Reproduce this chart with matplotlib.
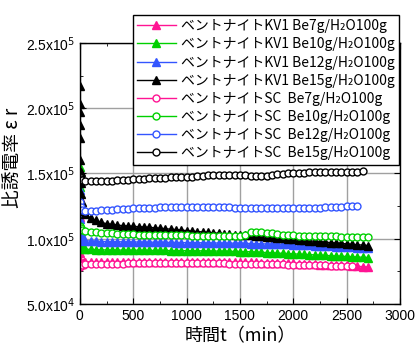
import numpy as np
import matplotlib
matplotlib.use("Agg")
import matplotlib.pyplot as plt
from matplotlib.ticker import MultipleLocator, FixedLocator

plt.rcParams['font.family'] = ['Liberation Sans', 'DejaVu Sans']
JP = ['Noto Sans CJK JP', 'DejaVu Sans']

# time axis (min)
t_kv1 = [0, 1, 2, 3, 4, 5, 7, 10, 15, 20, 30, 40] + list(range(50, 2701, 50))
t_sc = [0, 10, 20] + list(range(50, 2701, 50))

# dielectric constant, x10^3
kv1_7 = [131, 117, 102, 89, 84, 82, 81, 80.5, 80.5, 81, 81.5, 82,
         82.2, 82.3, 82.4, 82.5, 82.5, 82.5, 82.5, 82.5, 82.5, 82.5,
         82.5, 82.5, 82.5, 82.4, 82.4, 82.4, 82.4, 82.3, 82.3, 82.3,
         82.3, 82.3, 82.2, 82.2, 82.2, 82.1, 82.1, 82.1, 82.0, 82.0,
         82.0, 81.9, 81.8, 81.7, 81.6, 81.5, 81.4, 81.3, 81.2, 81.1,
         81.0, 80.8, 80.6, 80.4, 80.2, 80.0, 79.8, 79.7, 79.6, 79.5,
         79.2, 78.9, 78.6, 78.3]
kv1_10 = [155, 148, 140, 130, 120, 112, 106, 100, 96, 94, 93, 92.5,
          92, 91.8, 91.6, 91.5, 91.4, 91.4, 91.3, 91.3, 91.2, 91.2,
          91.2, 91.1, 91.1, 91, 91, 91, 90.9, 90.9, 90.9, 90.8,
          90.8, 90.7, 90.7, 90.6, 90.6, 90.5, 90.5, 90.4, 90.3, 90.2,
          90.1, 90, 89.8, 89.6, 89.4, 89.2, 89, 88.8, 88.6, 88.4,
          88.2, 88, 87.8, 87.6, 87.4, 87.2, 87, 86.8, 86.6, 86.4,
          86.2, 86, 85.8, 85.6]
kv1_12 = [137, 130, 125, 120, 115, 110, 106, 104, 102, 100.5, 99.5, 99,
          98.5, 98.2, 98, 97.8, 97.8, 97.7, 97.7, 97.6, 97.6, 97.5,
          97.5, 97.4, 97.4, 97.3, 97.3, 97.2, 97.2, 97.1, 97.1, 97,
          97, 96.9, 96.9, 96.8, 96.8, 96.7, 96.7, 96.6, 96.6, 96.5,
          96.4, 96.3, 96.2, 96.1, 96, 95.9, 95.8, 95.7, 95.6, 95.5,
          95.3, 95.1, 94.9, 94.7, 94.5, 94.3, 94.1, 93.9, 93.7, 93.5,
          93.3, 93.1, 92.9, 92.7]
kv1_15 = [217, 203, 197, 187, 177, 160, 151, 143, 134, 128, 124, 121,
          119, 116, 114, 112.5, 111.5, 111, 110.5, 110, 109.8, 109.5,
          109.2, 109, 108.7, 108.4, 108, 107.7, 107.3, 107, 106.6, 106.2,
          105.8, 105.5, 105.2, 104.8, 104.5, 104.2, 103.8, 103.5, 103.2, 102.8,
          102.6, 102.8, 102.4, 102, 101.5, 101, 100.6, 100.2, 99.8, 99.4,
          99, 98.7, 98.4, 98, 97.7, 97.4, 97, 96.7, 96.4, 96,
          95.7, 95.4, 95.1, 94.8]

sc_7 = [78, 79.5, 80,
        80.3, 80.5, 80.6, 80.7, 80.8, 80.9, 81, 81, 81.1, 81.1,
        81.2, 81.2, 81.2, 81.3, 81.3, 81.3, 81.3, 81.3, 81.3, 81.3,
        81.3, 81.3, 81.2, 81.2, 81.2, 81.1, 81.1, 81, 81, 81,
        80.9, 80.9, 80.8, 80.7, 80.6, 80.5, 80.4, 80.3, 80.2, 80.1,
        80, 79.9, 79.8, 79.7, 79.6, 79.5, 79.4, 79.3, 79.2, 79.1,
        79.0]
sc_10 = [110, 108, 107,
         106, 105.5, 105, 104.5, 104.2, 104, 103.8, 103.6, 103.5, 103.3,
         103.2, 103.1, 103, 102.9, 102.8, 102.7, 102.6, 102.6, 102.5, 102.5,
         102.4, 102.4, 102.3, 102.3, 102.2, 102.2, 102.1, 102.1, 102.1, 102.2,
         103, 104.8, 105.5, 105, 104.5, 104, 103.5, 103, 102.7, 102.5,
         102.3, 102.2, 102.1, 102, 101.9, 101.8, 101.7, 101.7, 101.6, 101.6,
         101.5, 101.5, 101.5, 101.5]
sc_12 = [128, 124, 122,
         121, 121.2, 121.5, 121.8, 122, 122.2, 122.5, 122.7, 123, 123.2,
         123.4, 123.5, 123.7, 123.8, 124, 124, 124.1, 124.2, 124.2, 124.3,
         124.4, 124.5, 124.5, 124.5, 124.5, 124.4, 124.2, 124, 123.8, 123.6,
         123.5, 123.4, 123.3, 123.3, 123.3, 123.3, 123.3, 123.3, 123.4, 123.4,
         123.5, 123.6, 123.7, 123.8, 123.9, 124, 124.2, 124.4, 124.6, 124.8,
         125, 125.2]
sc_15 = [147.5, 146, 145,
         144.3, 144.2, 144.2, 144.3, 144.4, 144.6, 144.8, 145, 145.3, 145.6,
         145.8, 146, 146.2, 146.4, 146.6, 146.8, 147, 147.2, 147.3, 147.4,
         147.6, 147.8, 148.2, 148.5, 148.8, 149, 149.1, 149.1, 149, 148.9,
         148.5, 148, 147.8, 148, 148.4, 148.8, 149.2, 149.6, 150, 150.3,
         150.5, 150.7, 150.8, 150.9, 151, 151.1, 151.2, 151.3, 151.3, 151.4,
         151.4, 151.4, 151.5]

pink = '#ff1493'
green = '#00d000'
blue = '#3355ff'
black = '#000000'

labels = ['ベントナイトKV1 Be7g/H₂O100g', 'ベントナイトKV1 Be10g/H₂O100g',
          'ベントナイトKV1 Be12g/H₂O100g', 'ベントナイトKV1 Be15g/H₂O100g',
          'ベントナイトSC  Be7g/H₂O100g', 'ベントナイトSC  Be10g/H₂O100g',
          'ベントナイトSC  Be12g/H₂O100g', 'ベントナイトSC  Be15g/H₂O100g']

fig = plt.figure(figsize=(4.18, 3.49), dpi=100)
ax = fig.add_axes([0.191, 0.129, 0.766, 0.748])

kv1 = [kv1_7, kv1_10, kv1_12, kv1_15]
sc = [sc_7, sc_10, sc_12, sc_15]
cols = [pink, green, blue, black]

for i in range(4):
    y = np.array(kv1[i]) * 1e3
    ax.plot(t_kv1[:len(y)], y, color=cols[i], lw=1, marker='^', ms=5.5,
            mec=cols[i], mfc=cols[i], label=labels[i])
for i in range(4):
    y = np.array(sc[i]) * 1e3
    ax.plot(t_sc[:len(y)], y, color=cols[i], lw=1, marker='o', ms=5,
            mec=cols[i], mfc='white', mew=1, label=labels[i + 4])

ax.set_xlim(0, 3000)
ax.set_ylim(5e4, 2.5e5)
ax.xaxis.set_major_locator(MultipleLocator(500))
ax.xaxis.set_minor_locator(MultipleLocator(250))
ax.yaxis.set_major_locator(FixedLocator([5e4, 1e5, 1.5e5, 2e5, 2.5e5]))
ax.yaxis.set_minor_locator(MultipleLocator(2.5e4))
ax.set_yticklabels([r'5.0x10$^4$', r'1.0x10$^5$', r'1.5x10$^5$',
                    r'2.0x10$^5$', r'2.5x10$^5$'])
ax.tick_params(which='both', direction='in', top=True, right=True,
               labelsize=10)
ax.tick_params(which='major', length=4)
ax.tick_params(which='minor', length=2)
ax.grid(True, which='major', color='#a0a0a0', lw=1)
ax.set_axisbelow(True)
for s in ax.spines.values():
    s.set_linewidth(1)

ax.set_xlabel('時間t（min）', family=JP, fontsize=13, labelpad=3)
ax.set_ylabel('比誘電率 ε r', family=JP, fontsize=13.5)
ax.yaxis.set_label_coords(-0.175, 0.56)

leg = ax.legend(loc='upper right', bbox_to_anchor=(0.955, 0.957),
                bbox_transform=fig.transFigure, numpoints=1,
                prop={'family': JP, 'size': 10}, frameon=True, fancybox=False,
                framealpha=1, edgecolor='black', handlelength=2.8,
                handletextpad=0.4, labelspacing=0.3, borderpad=0.3,
                borderaxespad=0)
leg.get_frame().set_linewidth(1)

fig.savefig('out.png', dpi=100)
